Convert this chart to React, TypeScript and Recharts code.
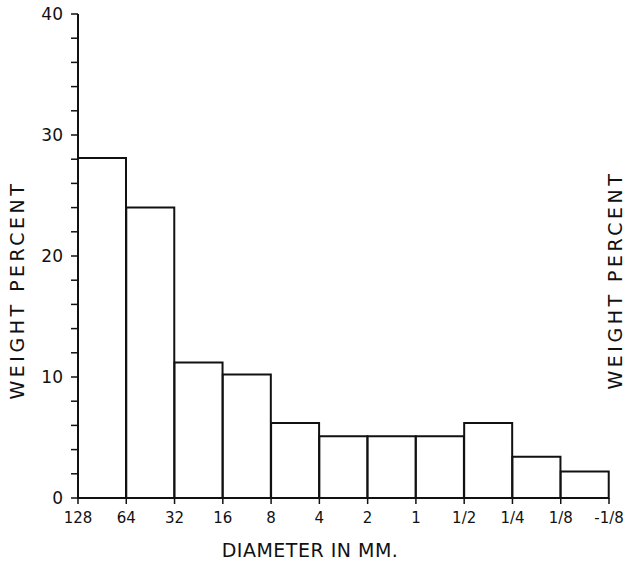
import React from 'react';
import { ComposedChart, Bar, XAxis, YAxis, Label } from 'recharts';

// Sieve size boundaries (mm) shown under the bin edges
const boundaryLabels = ['128', '64', '32', '16', '8', '4', '2', '1', '1/2', '1/4', '1/8', '-1/8'];
// Size classes (bins between boundaries)
const binNames = ['128-64', '64-32', '32-16', '16-8', '8-4', '4-2', '2-1', '1-1/2', '1/2-1/4', '1/4-1/8', '1/8-(-1/8)'];
// Weight percent of each size class
const weightPercent = [28.1, 24.0, 11.2, 10.2, 6.2, 5.1, 5.1, 5.1, 6.2, 3.4, 2.2];
// Y ticks (labels only at multiples of 10)
const yTicks = [0, 2, 4, 6, 8, 10, 12, 14, 16, 18, 20, 22, 24, 26, 28, 30, 32, 34, 36, 38, 40];
const edgeTicks = boundaryLabels.map((_, i) => i);

const data = binNames.map((name, i) => ({ name, mid: i + 0.5, value: weightPercent[i] }));

const FONT = '"DejaVu Sans", sans-serif';
const INK = '#111';

export default function App() {
  return (
    <div style={{ position: 'absolute', left: 0, top: 0, background: '#fff' }}>
      <ComposedChart
        width={627}
        height={567}
        data={data}
        margin={{ top: 14, right: 0, bottom: 9, left: 0 }}
        barCategoryGap={0}
        barGap={0}
      >
        <XAxis dataKey="name" xAxisId="cat" hide height={0} />
        <XAxis
          xAxisId="num"
          dataKey="mid"
          type="number"
          domain={[0, boundaryLabels.length - 1]}
          ticks={edgeTicks}
          interval={0}
          allowDataOverflow
          height={60}
          tickFormatter={(v: number) => boundaryLabels[v]}
          tick={{ fill: INK, fontSize: 15, fontFamily: FONT }}
          tickSize={6}
          tickMargin={8}
          axisLine={{ stroke: INK, strokeWidth: 2 }}
          tickLine={{ stroke: INK, strokeWidth: 1.5 }}
        >
          <Label
            content={(props: any) => {
              const vb = props.viewBox || { x: 78, y: 498, width: 531, height: 60 };
              return (
                <text
                  x={310}
                  y={vb.y + 59}
                  textAnchor="middle"
                  fill={INK}
                  fontFamily={FONT}
                  fontSize={19}
                  letterSpacing={0.5}
                >
                  DIAMETER IN MM.
                </text>
              );
            }}
          />
        </XAxis>
        <YAxis
          yAxisId="left"
          domain={[0, 40]}
          ticks={yTicks}
          interval={0}
          width={78}
          tickFormatter={(v: number) => (v % 10 === 0 ? String(v) : '')}
          tick={{ fill: INK, fontSize: 17, fontFamily: FONT }}
          tickSize={7}
          tickMargin={8}
          axisLine={{ stroke: INK, strokeWidth: 2 }}
          tickLine={{ stroke: INK, strokeWidth: 1.5 }}
        >
          <Label
            content={() => (
              <text
                x={17}
                y={290}
                transform="rotate(-90 17 290)"
                textAnchor="middle"
                dominantBaseline="central"
                fill={INK}
                fontFamily={FONT}
                fontSize={19}
                letterSpacing={3.5}
              >
                WEIGHT PERCENT
              </text>
            )}
          />
        </YAxis>
        <YAxis
          yAxisId="right"
          orientation="right"
          domain={[0, 40]}
          width={18}
          tick={false}
          axisLine={false}
          tickLine={false}
        >
          <Label
            content={() => (
              <text
                x={615}
                y={280}
                transform="rotate(-90 615 280)"
                textAnchor="middle"
                dominantBaseline="central"
                fill={INK}
                fontFamily={FONT}
                fontSize={19}
                letterSpacing={3.5}
              >
                WEIGHT PERCENT
              </text>
            )}
          />
        </YAxis>
        <Bar
          dataKey="value"
          xAxisId="cat"
          yAxisId="left"
          fill="#fff"
          stroke={INK}
          strokeWidth={2}
          isAnimationActive={false}
        />
      </ComposedChart>
    </div>
  );
}
